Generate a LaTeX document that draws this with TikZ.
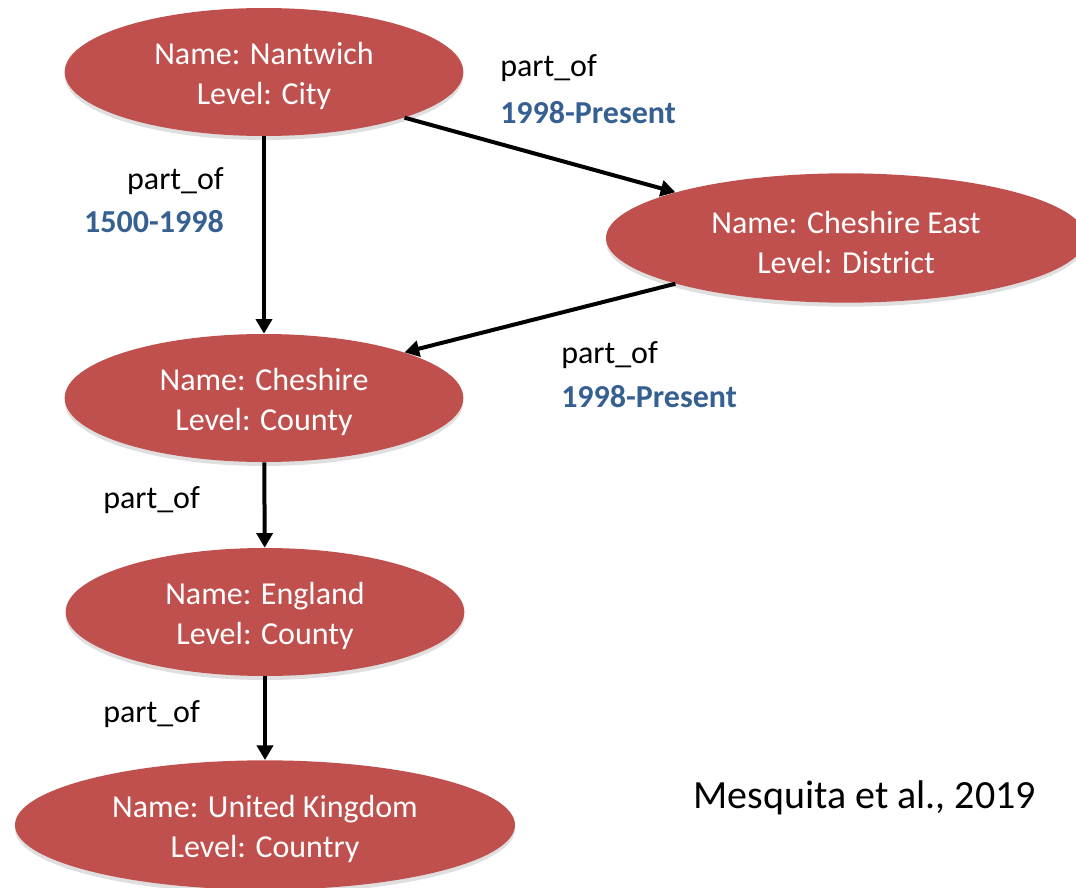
\documentclass[tikz,border=0pt]{standalone}
\usepackage{fontspec}
\setmainfont{Carlito}
\usetikzlibrary{shapes.geometric,arrows.meta,shadows}
\definecolor{placered}{HTML}{C0504D}
\definecolor{yearblue}{HTML}{376092}
\newcommand{\placestrut}{\rule{0pt}{23pt}}
\begin{document}
\begin{tikzpicture}[x=0.75pt,y=-0.75pt,
  place/.style={ellipse, fill=placered, text=white, align=center, inner sep=0pt,
    minimum width=299pt, minimum height=96pt, font=\fontsize{24}{30}\selectfont,
    drop shadow={shadow xshift=0pt, shadow yshift=-3pt, opacity=0.25}},
  rel/.style={inner sep=0pt, font=\fontsize{24}{30}\selectfont},
  years/.style={rel, text=yearblue, font=\fontsize{24}{30}\selectfont\bfseries},
  link/.style={draw, line width=3pt, -{Triangle[length=11pt,width=12pt]}}]
\useasboundingbox (0,0) rectangle (1076,888);
\node[place] (nantwich) at (264,72) {\placestrut Name: Nantwich\\Level: City};
\node[place, minimum width=360pt, minimum height=97pt] (east) at (846,238) {\placestrut Name: Cheshire East\\Level: District};
\node[place] (cheshire) at (264,398) {\placestrut Name: Cheshire\\Level: County};
\node[place] (england) at (265,612) {\placestrut Name: England\\Level: County};
\node[place, minimum width=375pt, minimum height=97pt] (uk) at (265,825) {\placestrut Name: United Kingdom\\Level: Country};

\node[rel, anchor=east] (p1) at (224,181) {part\_of};
\node[years, anchor=east] (y1) at (224,222) {1500-1998};
\node[rel, anchor=west] (p2) at (500,68) {part\_of};
\node[years, anchor=west] (y2) at (500,113) {1998-Present};
\node[rel, anchor=west] (p3) at (561,355) {part\_of};
\node[years, anchor=west] (y3) at (561,397) {1998-Present};
\node[rel, anchor=west] (p4) at (103,500) {part\_of};
\node[rel, anchor=west] (p5) at (103,714) {part\_of};
\node[anchor=west, inner sep=0pt, font=\fontsize{30}{36}\selectfont] (cite) at (693,798) {Mesquita et al., 2019};

\path[link] (nantwich) -- (cheshire);
\path[link] (nantwich.-18) -- (east.165);
\path[link] (east.-165) -- (cheshire.18);
\path[link] (cheshire) -- (england);
\path[link] (england) -- (uk);
\end{tikzpicture}
\end{document}
